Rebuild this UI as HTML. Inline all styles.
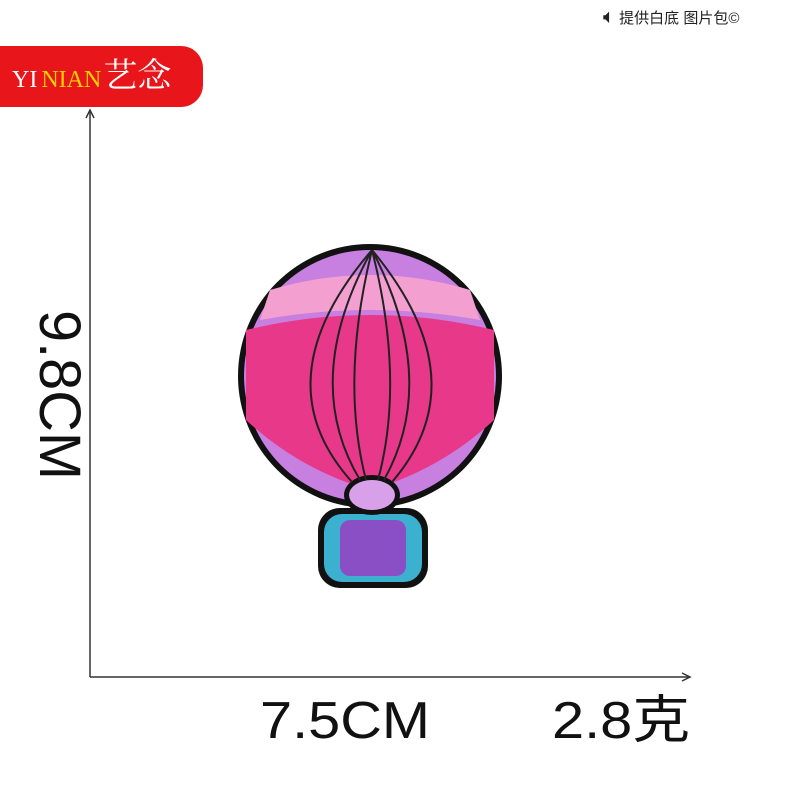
<!DOCTYPE html>
<html><head><meta charset="utf-8"><style>
body{margin:0;width:788px;height:788px;background:#fff;position:relative;overflow:hidden;font-family:"Liberation Sans","Noto Sans CJK SC",sans-serif}
.abs{position:absolute}
</style></head><body>
<div class="abs" style="left:603px;top:4px;font-size:15px;color:#222;line-height:26px">
<span style="font-size:20px">🔈︎</span> 提供白底 图片包©</div>
<div class="abs" style="left:0;top:46px;width:203px;height:61px;background:#e8151a;border-radius:0 22px 22px 0;line-height:61px;font-family:'Liberation Serif','Noto Serif CJK SC',serif">
<span style="margin-left:12px;color:#fff;font-size:24px">YI</span><span style="color:#f7d000;font-size:24px;margin-left:4px">NIAN</span><span style="color:#fff;font-size:34px;margin-left:2px">艺念</span></div>
<svg class="abs" style="left:0;top:0" width="788" height="788">
<g stroke="#333" stroke-width="1.5" fill="none">
<line x1="90" y1="110" x2="90" y2="677"/><polyline points="86,118 90,110 94,118"/>
<line x1="90" y1="677" x2="690" y2="677"/><polyline points="682,673 690,677 682,681"/>
</g>
<g>
<rect x="318" y="508" width="110" height="80" rx="22" fill="#111"/>
<rect x="324" y="514" width="98" height="68" rx="18" fill="#3bb0cf"/>
<rect x="340" y="520" width="66" height="56" rx="10" fill="#8a4fc4"/>
<circle cx="370" cy="376" r="132" fill="#111"/>
<circle cx="370" cy="376" r="126" fill="#c77fe0"/>
<path d="M246,330 Q370,300 494,330 L494,420 Q440,470 370,490 Q300,470 246,420Z" fill="#e8388a"/>
<path d="M270,290 Q370,260 470,290 L480,320 Q370,300 260,320Z" fill="#f3a0d0"/>
<ellipse cx="372" cy="495" rx="28" ry="20" fill="#111"/>
<ellipse cx="372" cy="495" rx="23" ry="15" fill="#d8a0e8"/>
<g stroke="#222" stroke-width="2" fill="none">
<path d="M372,250 Q300,380 360,480"/><path d="M372,250 Q260,380 352,482"/>
<path d="M372,250 Q440,380 384,480"/><path d="M372,250 Q480,380 392,482"/>
<path d="M372,250 Q340,380 366,480"/><path d="M372,250 Q405,380 378,480"/>
</g></g>
<text transform="translate(40,395) rotate(90)" text-anchor="middle" font-family="Liberation Sans" font-size="58" fill="#111" textLength="170" lengthAdjust="spacingAndGlyphs">9.8CM</text>
<text x="345" y="738" text-anchor="middle" font-family="Liberation Sans" font-size="52" fill="#111" textLength="170" lengthAdjust="spacingAndGlyphs">7.5CM</text>
<text x="621" y="738" text-anchor="middle" font-family="Liberation Sans, Noto Sans CJK SC, sans-serif" font-size="52" fill="#111" textLength="138" lengthAdjust="spacingAndGlyphs">2.8克</text>
</svg>
</body></html>
